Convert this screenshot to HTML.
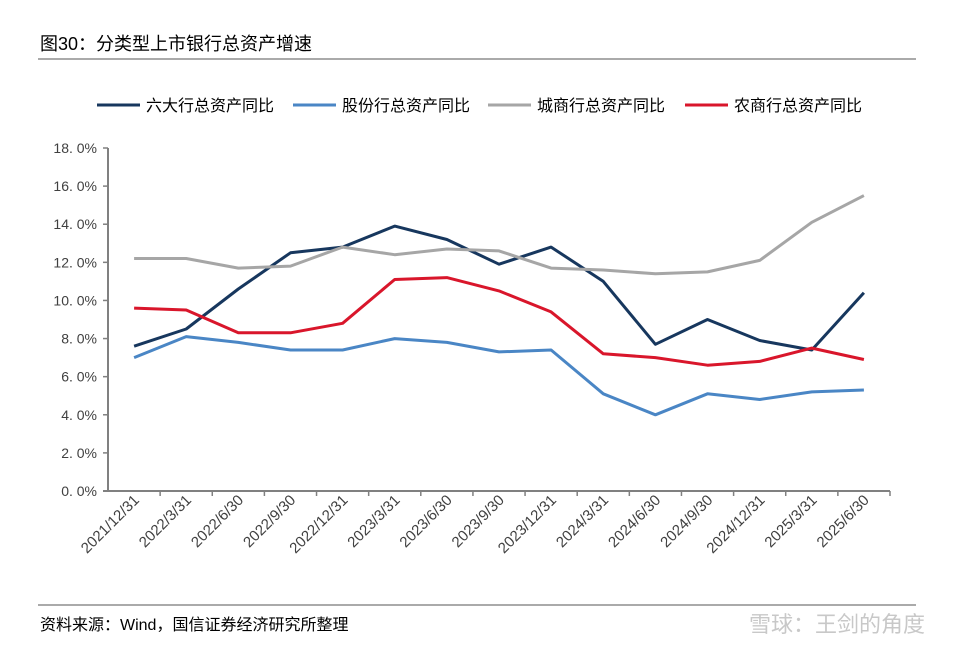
<!DOCTYPE html>
<html><head><meta charset="utf-8"><style>
body{margin:0;background:#fff;width:954px;height:658px;overflow:hidden;font-family:"Liberation Sans","Noto Sans CJK SC",sans-serif;}
</style></head><body>
<svg width="954" height="658" xmlns="http://www.w3.org/2000/svg" id="svg">
<text x="40" y="50" font-size="18" fill="#000" font-family="Liberation Sans, Noto Sans CJK SC, sans-serif">图30：分类型上市银行总资产增速</text>
<line x1="38" y1="59" x2="916" y2="59" stroke="#555" stroke-width="1"/>
<line x1="38" y1="605" x2="916" y2="605" stroke="#555" stroke-width="1"/>
<text x="40" y="630" font-size="16" fill="#000" font-family="Liberation Sans, Noto Sans CJK SC, sans-serif">资料来源：Wind，国信证券经济研究所整理</text>
<text x="925" y="632" font-size="22" fill="#c8c8c8" text-anchor="end" font-family="Liberation Sans, Noto Sans CJK SC, sans-serif">雪球：王剑的角度</text>
<g id="legend"></g>
<g id="plot"></g>
</svg>
<script>
const categories=["2021/12/31","2022/3/31","2022/6/30","2022/9/30","2022/12/31","2023/3/31","2023/6/30","2023/9/30","2023/12/31","2024/3/31","2024/6/30","2024/9/30","2024/12/31","2025/3/31","2025/6/30"];
const seriesNames=["六大行总资产同比","股份行总资产同比","城商行总资产同比","农商行总资产同比"];
const seriesColors=["#17375e","#4a86c5","#a6a6a6","#d9162b"];
const bigSix=[7.6,8.5,10.6,12.5,12.8,13.9,13.2,11.9,12.8,11.0,7.7,9.0,7.9,7.4,10.4];
const jointStock=[7.0,8.1,7.8,7.4,7.4,8.0,7.8,7.3,7.4,5.1,4.0,5.1,4.8,5.2,5.3];
const cityComm=[12.2,12.2,11.7,11.8,12.8,12.4,12.7,12.6,11.7,11.6,11.4,11.5,12.1,14.1,15.5];
const ruralComm=[9.6,9.5,8.3,8.3,8.8,11.1,11.2,10.5,9.4,7.2,7.0,6.6,6.8,7.5,6.9];
const yTicks=[0,2,4,6,8,10,12,14,16,18];
const yTickLabels=["0. 0%","2. 0%","4. 0%","6. 0%","8. 0%","10. 0%","12. 0%","14. 0%","16. 0%","18. 0%"];
const series=[bigSix,jointStock,cityComm,ruralComm];

const NS="http://www.w3.org/2000/svg";
const L=108,R=890,T=148,B=491,yMax=18;
const band=(R-L)/categories.length;
const x=i=>L+band*(i+0.5);
const y=v=>B-(v/yMax)*(B-T);
function mk(tag,attrs,parent){const e=document.createElementNS(NS,tag);for(const k in attrs)e.setAttribute(k,attrs[k]);parent.appendChild(e);return e;}
const plot=document.getElementById('plot');
const font="Liberation Sans, Noto Sans CJK SC, sans-serif";
let ax=mk('line',{x1:L,y1:T,x2:L,y2:B,stroke:'#808080','stroke-width':2},plot);


let bx=mk('line',{x1:L-5,y1:B,x2:R,y2:B,stroke:'#808080','stroke-width':2},plot);


yTicks.forEach((v,i)=>{
  const tk=mk('line',{x1:L-5,y1:y(v),x2:L,y2:y(v),stroke:'#808080','stroke-width':1.5},plot);
  
  
  const t=mk('text',{x:97,y:y(v)+5,'font-size':14,'text-anchor':'end',fill:'#404040','font-family':font},plot);
  t.textContent=yTickLabels[i];
  
  
});
categories.forEach((c,i)=>{
  const tx=L+band*(i+1);
  const tk=mk('line',{x1:tx,y1:B,x2:tx,y2:B+5,stroke:'#808080','stroke-width':1.5},plot);
  
  
  const px=x(i)+6,py=B+10;
  const t=mk('text',{x:px,y:py,'font-size':15,'text-anchor':'end',fill:'#404040','font-family':font,transform:`rotate(-45 ${px} ${py})`},plot);
  t.textContent=c;
  
  
});
series.forEach((s,k)=>{
  const d=s.map((v,i)=>(i?'L':'M')+x(i).toFixed(1)+' '+y(v).toFixed(1)).join(' ');
  const p=mk('path',{d:d,fill:'none',stroke:seriesColors[k],'stroke-width':3,'stroke-linejoin':'round'},plot);
  
  
});
const lg=document.getElementById('legend');
const lx=[97,293,488,685];
seriesNames.forEach((n,k)=>{
  const g=mk('g',{},lg);
  
  
  mk('line',{x1:lx[k],y1:105,x2:lx[k]+43,y2:105,stroke:seriesColors[k],'stroke-width':3},g);
  const t=mk('text',{x:lx[k]+49,y:111,'font-size':16,fill:'#000','font-family':font},g);
  t.textContent=n;
});
</script>
</body></html>
